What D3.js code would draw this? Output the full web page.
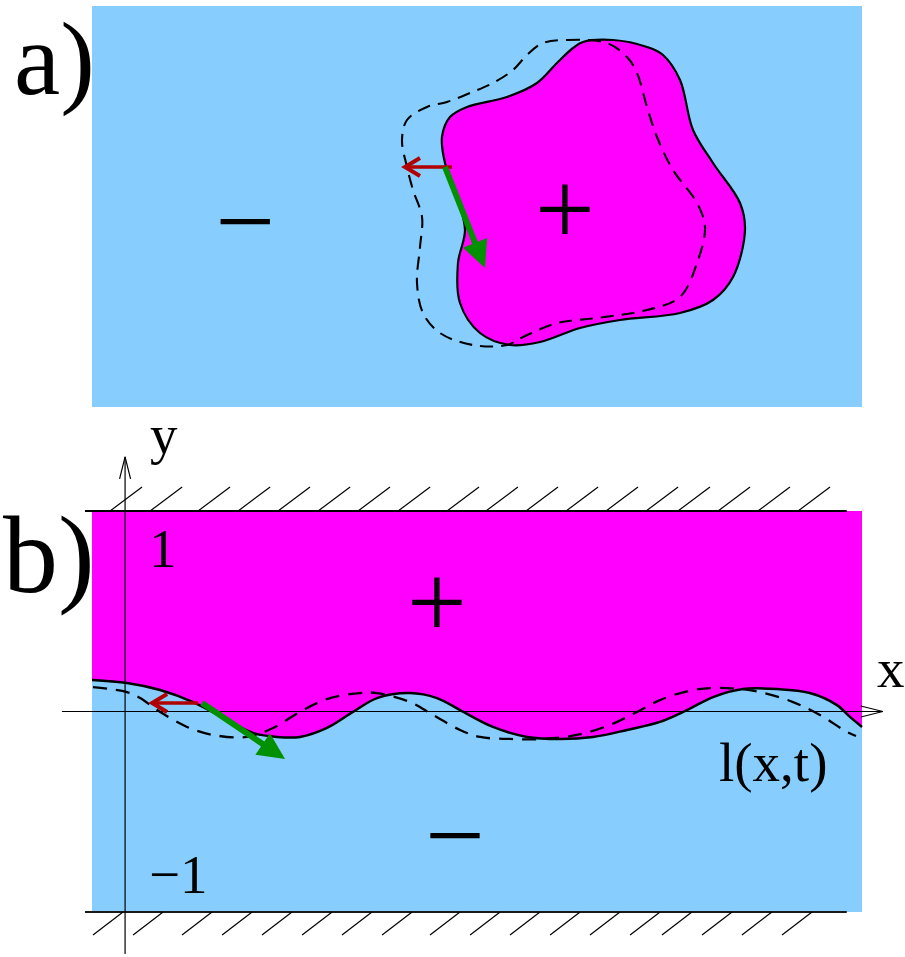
<!DOCTYPE html>
<html>
<head>
<meta charset="utf-8">
<script src="https://cdn.jsdelivr.net/npm/d3@7"></script>
<style>
  html, body { margin: 0; padding: 0; background: #fff; }
  svg { display: block; }
  text { font-family: "Liberation Serif", "Times New Roman", serif; fill: #000; }
</style>
</head>
<body>
<svg id="fig" width="905" height="957"></svg>
<script>
// ---- Panel a: a "+" domain inside a "−" phase (units centred on the domain) ----
const domainOutline = [
  [0.18, 1.69], [0.48, 1.71], [0.82, 1.64], [0.98, 1.56], [1.15, 1.31], [1.28, 0.81],
  [1.48, 0.48], [1.75, 0.08], [1.80, -0.19], [1.68, -0.66], [1.48, -0.89], [1.15, -1.02],
  [0.55, -1.09], [0.15, -1.17], [-0.25, -1.31], [-0.55, -1.34], [-0.85, -1.22], [-1.05, -0.92],
  [-1.07, -0.52], [-1.00, -0.19], [-1.08, 0.14], [-1.20, 0.48], [-1.23, 0.74], [-1.15, 0.94],
  [-0.98, 1.04], [-0.58, 1.14], [-0.28, 1.28], [-0.08, 1.48], [0.08, 1.63]
];
const domainOutlineLater = [
  [-0.22, 1.68], [0.02, 1.71], [0.42, 1.68], [0.62, 1.54], [0.72, 1.38], [0.82, 1.04],
  [0.92, 0.74], [1.08, 0.41], [1.32, 0.08], [1.40, -0.16], [1.32, -0.52], [1.15, -0.86],
  [0.82, -0.99], [0.32, -1.07], [-0.08, -1.12], [-0.42, -1.26], [-0.58, -1.34], [-0.92, -1.34],
  [-1.25, -1.22], [-1.42, -1.02], [-1.48, -0.72], [-1.45, -0.36], [-1.43, -0.06], [-1.52, 0.21],
  [-1.58, 0.44], [-1.63, 0.71], [-1.58, 0.91], [-1.38, 1.04], [-1.18, 1.09], [-0.95, 1.18],
  [-0.72, 1.28], [-0.52, 1.41], [-0.38, 1.56]
];
const velocityA = { from: [-1.13, 0.44], to: [-1.60, 0.44] };   // red: normal velocity
const forceA    = { from: [-1.20, 0.44], to: [-0.80, -0.57] };  // green
const signsA = [ { s: "+", at: [0, 0] }, { s: "\u2212", at: [-3.195, -0.09] } ];

// ---- Panel b: interface l(x,t) in the strip −1 < y < 1 ----
const interfaceNow = [
  [-0.165, 0.157], [0.010, 0.142], [0.175, 0.107], [0.339, 0.047], [0.509, -0.042],
  [0.638, -0.107], [0.758, -0.127], [0.873, -0.127], [1.007, -0.082], [1.137, -0.002],
  [1.257, 0.067], [1.421, 0.092], [1.556, 0.067], [1.671, 0.007], [1.835, -0.077],
  [2.005, -0.127], [2.170, -0.137], [2.334, -0.127], [2.504, -0.092], [2.668, -0.052],
  [2.803, 0.007], [2.933, 0.072], [3.082, 0.112], [3.252, 0.112], [3.416, 0.092],
  [3.551, 0.032], [3.616, -0.027], [3.676, -0.077]
];
const interfaceLater = [
  [-0.160, 0.122], [-0.075, 0.112], [0.010, 0.097], [0.075, 0.067], [0.175, -0.002],
  [0.309, -0.077], [0.439, -0.117], [0.608, -0.127], [0.738, -0.082], [0.873, -0.002],
  [1.007, 0.062], [1.172, 0.092], [1.257, 0.092], [1.421, 0.047], [1.536, -0.017],
  [1.671, -0.092], [1.771, -0.127], [1.920, -0.137], [2.085, -0.137], [2.254, -0.117],
  [2.419, -0.067], [2.554, -0.002], [2.668, 0.057], [2.833, 0.107], [3.002, 0.117],
  [3.167, 0.097], [3.332, 0.047], [3.466, -0.017], [3.601, -0.102], [3.646, -0.122]
];
const velocityB = { from: [0.364, 0.042], to: [0.135, 0.042] };
const forceB    = { from: [0.384, 0.042], to: [0.798, -0.237] };
const topHatchX = [-0.075, 0.125, 0.364, 0.564, 0.763, 0.963, 1.162, 1.362, 1.606,
                   1.800, 2.000, 2.200, 2.399, 2.599, 2.758, 2.958, 3.157, 3.357];
const bottomHatchX = [-0.160, 0.040, 0.284, 0.484, 0.683, 0.883, 1.082, 1.282, 1.521,
                      1.721, 1.920, 2.120, 2.319, 2.519, 2.678, 2.878, 3.077, 3.277];
const signsB = [ { s: "+", at: [1.556, 0.536] }, { s: "\u2212", at: [1.646, -0.611] } ];
const tickLabelsB = [ { t: "1", y: 1 }, { t: "\u22121", y: -1 } ];

// ---- colours ----
const BLUE = "#87CEFF", MAGENTA = "#FF00FF", RED = "#B00000", GREEN = "#009000";

const svg = d3.select("#fig");

// scales
const xa = d3.scaleLinear().domain([-4.73, 2.97]).range([92, 862]);
const ya = d3.scaleLinear().domain([-1.96, 2.05]).range([407, 6]);
const xb = d3.scaleLinear().domain([-0.165, 3.676]).range([92, 862]);
const yb = d3.scaleLinear().domain([-1, 1]).range([912, 511]);

// helpers
function redArrow(g, p0, p1) {
  const dx = p1[0] - p0[0], dy = p1[1] - p0[1], L = Math.hypot(dx, dy);
  const ux = dx / L, uy = dy / L, nx = -uy, ny = ux;
  const len = 15, hw = 9;
  g.append("line").attr("x1", p0[0]).attr("y1", p0[1]).attr("x2", p1[0]).attr("y2", p1[1])
    .attr("stroke", RED).attr("stroke-width", 3.5);
  g.append("path")
    .attr("d", d3.line()([[p1[0] - ux * len + nx * hw, p1[1] - uy * len + ny * hw], p1,
                          [p1[0] - ux * len - nx * hw, p1[1] - uy * len - ny * hw]]))
    .attr("fill", "none").attr("stroke", RED).attr("stroke-width", 4)
    .attr("stroke-linejoin", "miter");
}
function greenArrow(g, p0, p1) {
  const dx = p1[0] - p0[0], dy = p1[1] - p0[1], L = Math.hypot(dx, dy);
  const ux = dx / L, uy = dy / L, nx = -uy, ny = ux;
  const len = 27, hw = 13;
  g.append("line").attr("x1", p0[0]).attr("y1", p0[1])
    .attr("x2", p1[0] - ux * len * 0.7).attr("y2", p1[1] - uy * len * 0.7)
    .attr("stroke", GREEN).attr("stroke-width", 6);
  g.append("path")
    .attr("d", d3.line()([p1, [p1[0] - ux * len + nx * hw, p1[1] - uy * len + ny * hw],
                          [p1[0] - ux * len - nx * hw, p1[1] - uy * len - ny * hw]]) + "Z")
    .attr("fill", GREEN);
}
function openHead(g, tip, dir) {
  const len = 22, hw = 5.5, nx = -dir[1], ny = dir[0];
  g.append("path")
    .attr("d", d3.line()([[tip[0] - dir[0] * len + nx * hw, tip[1] - dir[1] * len + ny * hw], tip,
                          [tip[0] - dir[0] * len - nx * hw, tip[1] - dir[1] * len - ny * hw]]))
    .attr("fill", "none").attr("stroke", "#000").attr("stroke-width", 1.2);
}
// place a "+" / "−" glyph with its centre on a point
function sign(g, s, cx, cy) {
  const fs = 106;
  const shift = s === "+" ? 0.324 : 0.352;
  g.append("text").attr("x", cx).attr("y", cy + fs * shift)
    .attr("text-anchor", "middle").attr("font-size", fs).text(s);
}

// ================= Panel a =================
const ga = svg.append("g");
ga.append("rect").attr("x", xa(-4.73)).attr("y", ya(2.05))
  .attr("width", xa(2.97) - xa(-4.73)).attr("height", ya(-1.96) - ya(2.05)).attr("fill", BLUE);

const closedA = d3.line().x(d => xa(d[0])).y(d => ya(d[1])).curve(d3.curveCatmullRomClosed.alpha(0.5));
ga.append("path").attr("d", closedA(domainOutline))
  .attr("fill", MAGENTA).attr("stroke", "#000").attr("stroke-width", 2.2);
ga.append("path").attr("d", closedA(domainOutlineLater))
  .attr("fill", "none").attr("stroke", "#000").attr("stroke-width", 2.1)
  .attr("stroke-dasharray", "13,8");

signsA.forEach(d => sign(ga, d.s, xa(d.at[0]), ya(d.at[1])));
redArrow(ga, [xa(velocityA.from[0]), ya(velocityA.from[1])], [xa(velocityA.to[0]), ya(velocityA.to[1])]);
greenArrow(ga, [xa(forceA.from[0]), ya(forceA.from[1])], [xa(forceA.to[0]), ya(forceA.to[1])]);

ga.append("text").attr("x", 14).attr("y", 94).attr("font-size", 104).text("a)");

// ================= Panel b =================
const gb = svg.append("g");
gb.append("rect").attr("x", xb(-0.165)).attr("y", yb(1))
  .attr("width", xb(3.676) - xb(-0.165)).attr("height", yb(-1) - yb(1)).attr("fill", BLUE);

// "+" phase: between the upper wall and the interface
const plusArea = d3.area().x(d => xb(d[0])).y0(yb(1)).y1(d => yb(d[1])).curve(d3.curveCatmullRom.alpha(0.5));
gb.append("path").attr("d", plusArea(interfaceNow)).attr("fill", MAGENTA);

// walls with hatching
const wallL = -0.2, wallR = 3.6;
gb.append("line").attr("x1", xb(wallL)).attr("x2", xb(wallR)).attr("y1", yb(1)).attr("y2", yb(1))
  .attr("stroke", "#000").attr("stroke-width", 2);
gb.append("line").attr("x1", xb(wallL)).attr("x2", xb(wallR)).attr("y1", yb(-1)).attr("y2", yb(-1))
  .attr("stroke", "#1a1a1a").attr("stroke-width", 2);
gb.selectAll("line.htop").data(topHatchX).join("line").attr("class", "htop")
  .attr("x1", d => xb(d)).attr("y1", yb(1)).attr("x2", d => xb(d) + 32).attr("y2", yb(1) - 24)
  .attr("stroke", "#000").attr("stroke-width", 1.2);
gb.selectAll("line.hbot").data(bottomHatchX).join("line").attr("class", "hbot")
  .attr("x1", d => xb(d)).attr("y1", yb(-1) + 23).attr("x2", d => xb(d) + 30).attr("y2", yb(-1))
  .attr("stroke", "#000").attr("stroke-width", 1.2);

// axes
gb.append("line").attr("x1", xb(0)).attr("x2", xb(0)).attr("y1", yb(-1.21)).attr("y2", yb(1.27))
  .attr("stroke", "#000").attr("stroke-width", 1.2);
openHead(gb, [xb(0), yb(1.27)], [0, -1]);
gb.append("line").attr("x1", xb(-0.315)).attr("x2", xb(3.78)).attr("y1", yb(0)).attr("y2", yb(0))
  .attr("stroke", "#000").attr("stroke-width", 1.2);
openHead(gb, [xb(3.78), yb(0)], [1, 0]);

// interface now (solid) and later (dashed)
const curveB = d3.line().x(d => xb(d[0])).y(d => yb(d[1])).curve(d3.curveCatmullRom.alpha(0.5));
gb.append("path").attr("d", curveB(interfaceNow))
  .attr("fill", "none").attr("stroke", "#000").attr("stroke-width", 2.5);
gb.append("path").attr("d", curveB(interfaceLater))
  .attr("fill", "none").attr("stroke", "#000").attr("stroke-width", 2.3)
  .attr("stroke-dasharray", "14,9");

redArrow(gb, [xb(velocityB.from[0]), yb(velocityB.from[1])], [xb(velocityB.to[0]), yb(velocityB.to[1])]);
greenArrow(gb, [xb(forceB.from[0]), yb(forceB.from[1])], [xb(forceB.to[0]), yb(forceB.to[1])]);

signsB.forEach(d => sign(gb, d.s, xb(d.at[0]), yb(d.at[1])));

// labels
const fsSmall = 55;
tickLabelsB.forEach(d => {
  gb.append("text").attr("x", xb(0) + 24).attr("y", yb(d.y) + (d.y > 0 ? 56 : -19))
    .attr("font-size", fsSmall).text(d.t);
});
gb.append("text").attr("x", 150).attr("y", 453).attr("font-size", fsSmall).text("y");
gb.append("text").attr("x", 877).attr("y", 687).attr("font-size", fsSmall).text("x");
gb.append("text").attr("x", 719).attr("y", 781).attr("font-size", fsSmall).text("l(x,t)");
gb.append("text").attr("x", 3).attr("y", 592).attr("font-size", 110).text("b)");
</script>
</body>
</html>
